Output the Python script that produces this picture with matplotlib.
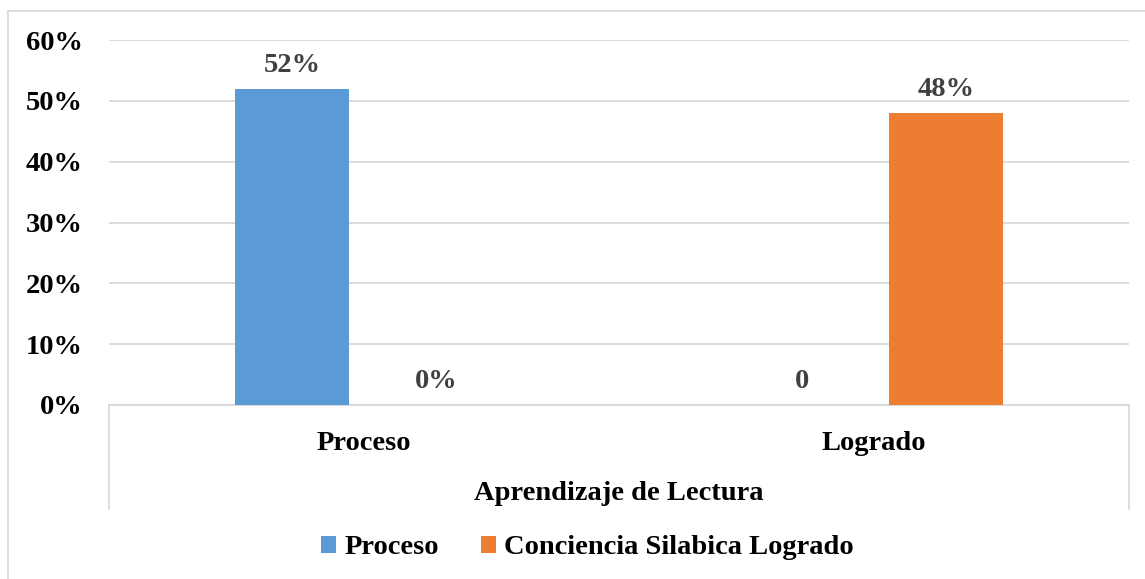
import numpy as np
import matplotlib
matplotlib.use('Agg')
import matplotlib.pyplot as plt
from matplotlib.patches import Rectangle
from matplotlib.ticker import FuncFormatter

# data
categories = ['Proceso', 'Logrado']
series_names = ['Proceso', 'Conciencia Silabica Logrado']
proceso_vals = [0.52, 0.0]
logrado_vals = [0.0, 0.48]
proceso_labels = ['52%', '0']
logrado_labels = ['0%', '48%']
yticks = [0.0, 0.1, 0.2, 0.3, 0.4, 0.5, 0.6]
axis_title = 'Aprendizaje de Lectura'

blue = '#5b9bd5'
orange = '#ed7d31'
grid_col = '#d9d9d9'
fs = 20.5

plt.rcParams['font.family'] = ['Liberation Serif', 'DejaVu Serif']
plt.rcParams['font.weight'] = 'bold'

W, H = 1145, 579
fig = plt.figure(figsize=(W / 100, H / 100), dpi=100)
ax = fig.add_axes([109 / W, 1 - 405 / H, (1129 - 109) / W, (405 - 40) / H])

x = np.arange(len(categories))
bw = 0.224
off = 0.141
b1 = ax.bar(x - off, proceso_vals, bw, color=blue, label=series_names[0], zorder=3)
b2 = ax.bar(x + off, logrado_vals, bw, color=orange, label=series_names[1], zorder=3)

for bars, labs in [(b1, proceso_labels), (b2, logrado_labels)]:
    for r, lab in zip(bars, labs):
        ax.annotate(lab, (r.get_x() + r.get_width() / 2, r.get_height()),
                    xytext=(0, 12), textcoords='offset points',
                    ha='center', va='baseline', fontsize=fs,
                    fontweight='bold', color='#404040')

ax.set_xlim(-0.5, 1.5)
ax.set_ylim(0, 0.6)
ax.set_yticks(yticks)
ax.yaxis.set_major_formatter(FuncFormatter(lambda v, p: '%d%%' % round(v * 100)))
ax.set_xticks(x)
ax.set_xticklabels(categories)
ax.tick_params(axis='both', length=0, labelsize=fs)
ax.tick_params(axis='y', pad=19)
ax.tick_params(axis='x', pad=19)
for t in ax.get_xticklabels() + ax.get_yticklabels():
    t.set_fontweight('bold')

ax.grid(axis='y', color=grid_col, linewidth=1.3, zorder=0)
for s in ['top', 'right', 'left']:
    ax.spines[s].set_visible(False)
ax.spines['bottom'].set_color(grid_col)
ax.spines['bottom'].set_linewidth(1.3)

# category table lines under the axis
depth = -(509 - 405) / (405 - 40)
for xv in [0, 1]:
    ax.plot([xv, xv], [0, depth], transform=ax.transAxes, color=grid_col,
            linewidth=1.3, clip_on=False)

fig.text(619 / W, 1 - 494 / H, axis_title, ha='center', va='center',
         fontsize=fs, fontweight='bold')

leg = fig.legend(loc='center', bbox_to_anchor=(587.5 / W, 1 - 548 / H), ncol=2,
                 frameon=False, fontsize=fs, handlelength=0.53, handleheight=0.53,
                 handletextpad=0.28, columnspacing=1.5, borderpad=0)
for t in leg.get_texts():
    t.set_fontweight('bold')

# chart area border (cut off at the right and bottom)
fig.add_artist(Rectangle((8 / W, -0.05), 1.1, 1 - 11 / H + 0.05,
                         transform=fig.transFigure, fill=False,
                         edgecolor=grid_col, linewidth=1.3))

fig.savefig('out.png', dpi=100)
